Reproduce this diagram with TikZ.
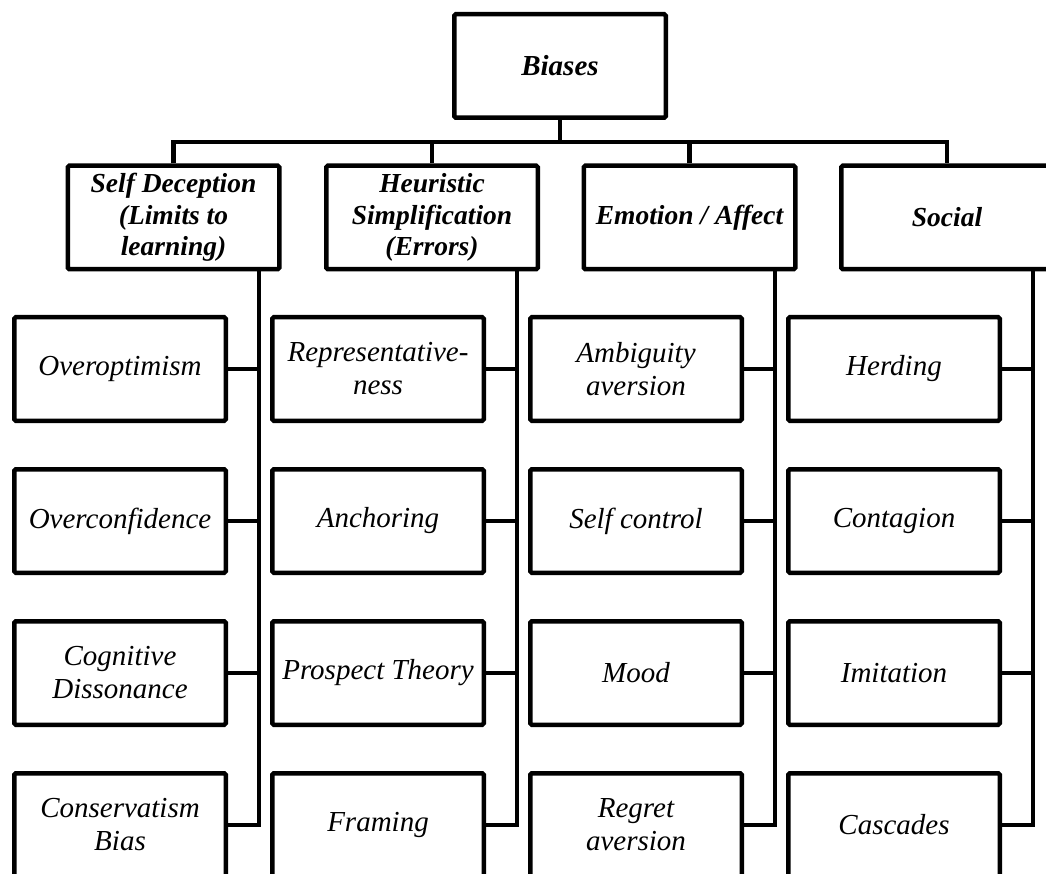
\documentclass[tikz,border=0pt]{standalone}
\usepackage{fontspec}
\setmainfont{Liberation Serif}
\usepackage{tikz}
\usetikzlibrary{positioning,calc}

\tikzset{
    box/.style={draw, line width=4.5pt, rounded corners=1.5pt, minimum width=211.5pt, minimum height=103.5pt, align=center, inner sep=1pt},
    topbox/.style={box, font=\fontsize{29}{33}\selectfont\bfseries\itshape},
    catbox/.style={box, font=\fontsize{27.5}{31.5}\selectfont\bfseries\itshape},
    leafbox/.style={box, font=\fontsize{29}{33}\selectfont\itshape},
    link/.style={line width=4.5pt}
}

\begin{document}
\begin{tikzpicture}[x=1pt, y=-1pt, node distance=44pt]
    \useasboundingbox (0,0) rectangle (1046,874);
    \clip (0,0) rectangle (1046,874);

    % root and categories
    \node[topbox] (biases) at (560,66) {Biases};
    \coordinate (bus) at (560,142);
    \node[catbox] (selfdec) at (173.5,217.5) {Self Deception\\(Limits to\\learning)};
    \node[catbox] (heur) at (432,217.5) {Heuristic\\Simplification\\(Errors)};
    \node[catbox] (emotion) at (689.5,217.5) {Emotion / Affect};
    \node[catbox] (social) at (947,217.5) {Social};

    % leaves
    \node[leafbox] (sd1) at (120,369) {Overoptimism};
    \node[leafbox, below=of sd1] (sd2) {Overconfidence};
    \node[leafbox, below=of sd2] (sd3) {Cognitive\\Dissonance};
    \node[leafbox, below=of sd3] (sd4) {Conservatism\\Bias};

    \node[leafbox] (hs1) at (378,369) {Representative-\\ness};
    \node[leafbox, below=of hs1] (hs2) {Anchoring};
    \node[leafbox, below=of hs2] (hs3) {Prospect Theory};
    \node[leafbox, below=of hs3] (hs4) {Framing};

    \node[leafbox] (em1) at (636,369) {Ambiguity\\aversion};
    \node[leafbox, below=of em1] (em2) {Self control};
    \node[leafbox, below=of em2] (em3) {Mood};
    \node[leafbox, below=of em3] (em4) {Regret\\aversion};

    \node[leafbox] (so1) at (894,369) {Herding};
    \node[leafbox, below=of so1] (so2) {Contagion};
    \node[leafbox, below=of so2] (so3) {Imitation};
    \node[leafbox, below=of so3] (so4) {Cascades};

    % connectors
    \draw[link] (biases.south) -- (bus);
    \draw[link] (selfdec.north) |- (bus) -| (social.north);
    \draw[link] (heur.north) -- (heur.north |- bus);
    \draw[link] (emotion.north) -- (emotion.north |- bus);

    \foreach \cat/\lf in {selfdec/sd, heur/hs, emotion/em, social/so} {
        \coordinate (\lf-t) at ($(\lf1.east)+(31,0)$);
        \draw[link] (\lf-t |- \cat.south) |- (\lf4.east);
        \foreach \r in {1,2,3}
            \draw[link] (\lf\r.east) -- (\lf\r.east -| \lf-t);
    }
\end{tikzpicture}
\end{document}
